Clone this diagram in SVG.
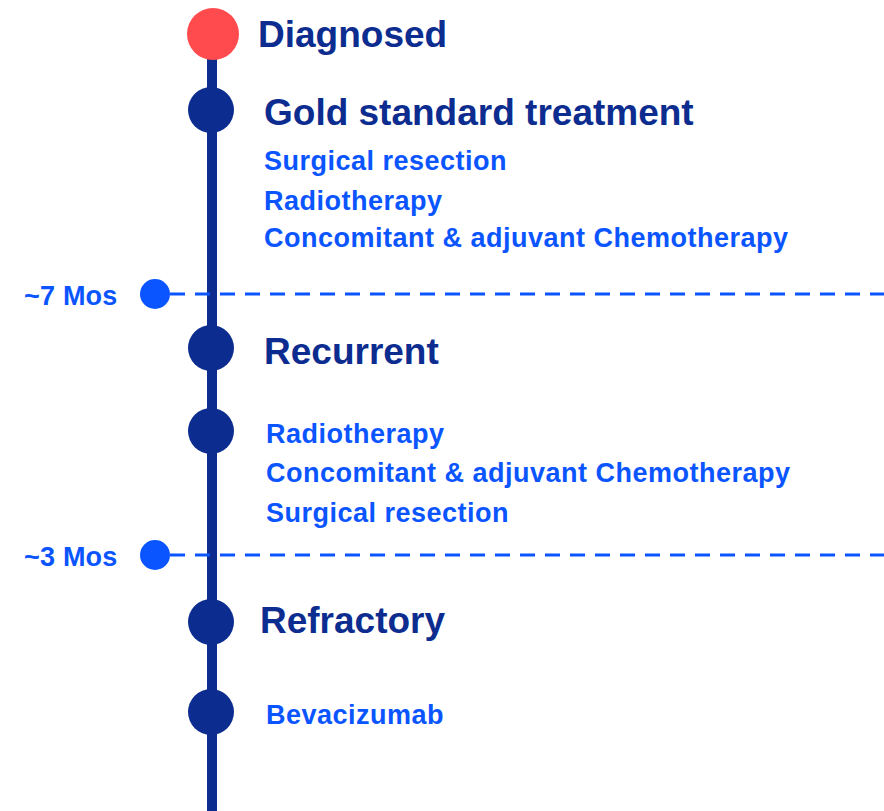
<svg xmlns="http://www.w3.org/2000/svg" width="884" height="811" viewBox="0 0 884 811">
<style>
.h{font-family:"Liberation Sans",Arial,sans-serif;font-weight:bold;font-size:37px;fill:#0C2D8F}
.s{font-family:"Liberation Sans",Arial,sans-serif;font-weight:bold;font-size:27px;letter-spacing:0.5px;fill:#0A55FF}
.m{font-family:"Liberation Sans",Arial,sans-serif;font-weight:bold;font-size:27px;letter-spacing:0.2px;fill:#0A55FF}
.node{fill:#0C2D8F}
.mark{fill:#0A55FF}
.dash{stroke:#0A55FF;stroke-width:3;stroke-dasharray:15 10;fill:none}
</style>
<rect width="884" height="811" fill="#fff"/>
<g id="connectors">
<line x1="212" y1="40" x2="212" y2="811" stroke="#0C2D8F" stroke-width="10"/>
<line class="dash" x1="170" y1="294" x2="884" y2="294"/>
<line class="dash" x1="170" y1="555" x2="884" y2="555"/>
</g>
<g id="diagnosed"><circle cx="213" cy="34" r="26" fill="#FF4B4E"/><text class="h" x="258" y="47">Diagnosed</text></g>
<g id="gold"><circle class="node" cx="211" cy="110" r="23"/><text class="h" x="264" y="125">Gold standard treatment</text>
<text class="s" x="264" y="170">Surgical resection</text>
<text class="s" x="264" y="210">Radiotherapy</text>
<text class="s" x="264" y="247">Concomitant &amp; adjuvant Chemotherapy</text></g>
<g id="mos7"><circle class="mark" cx="155" cy="294" r="15"/><text class="m" x="24" y="305">~7 Mos</text></g>
<g id="recurrent"><circle class="node" cx="211" cy="348" r="23"/><text class="h" x="264" y="364">Recurrent</text></g>
<g id="recurrent-tx"><circle class="node" cx="211" cy="431" r="23"/>
<text class="s" x="266" y="443">Radiotherapy</text>
<text class="s" x="266" y="482">Concomitant &amp; adjuvant Chemotherapy</text>
<text class="s" x="266" y="522">Surgical resection</text></g>
<g id="mos3"><circle class="mark" cx="155" cy="555" r="15"/><text class="m" x="24" y="566">~3 Mos</text></g>
<g id="refractory"><circle class="node" cx="211" cy="622" r="23"/><text class="h" x="260" y="633">Refractory</text></g>
<g id="refractory-tx"><circle class="node" cx="211" cy="712" r="23"/><text class="s" x="266" y="724">Bevacizumab</text></g>
</svg>
